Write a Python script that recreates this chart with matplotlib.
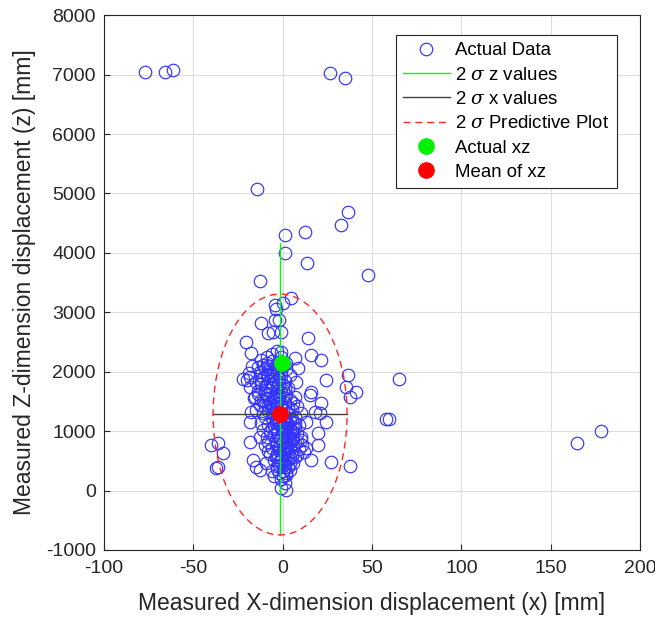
import numpy as np
import matplotlib
matplotlib.use("Agg")
import matplotlib.pyplot as plt

plt.rcParams["font.family"] = ["Liberation Sans", "DejaVu Sans"]
plt.rcParams["mathtext.fontset"] = "dejavuserif"
plt.rcParams["axes.unicode_minus"] = False

# ================= DATA =================
# scattered / outlying measurements (x mm, z mm)
outer_x = [-77, -66, -61.5, 26.2, 34.6, -14.4, 36.5, 32.9, 1, 12.2, 1, 13.5, 47.7, -13,
           4.8, -4.2, -4, -4.6, -12.4, -2.3, -8.3, -5.5, -0.8, -20.4, -17.6, -0.8, 14.1,
           16, 21.5, 6.6, 0.3, 8.5, 24.4, 36.5, 35.5, 41.1, 37.4, 16, 15, 21.5, 7.6, 6.6,
           17.8, 20.6, 24.4, 10.4, 13.1, 6.6, 65, 58, 59.6, 164.6, 178, 37.8, -40, -36.3,
           -33.5, -36.3, -37.2, -18.6, -16.7, -14.8, -13, -9.2, -0.8, 2, 19.7, 19.7, 16,
           27.1, 13.1, 10.4, -18.6, -18.6, -15.8, -17.6, -18.6]
outer_z = [7047, 7047, 7070, 7020, 6947, 5069, 4687, 4463, 4300, 4356, 3992, 3824, 3627, 3526,
           3245, 3123, 3050, 2870, 2825, 2870, 2657, 2673, 2673, 2505, 2320, 2337, 2562,
           2281, 2197, 2226, 3156, 2058, 1861, 1945, 1748, 1664, 1580, 1664, 1608, 1469, 1833, 1580,
           1327, 1300, 1159, 1300, 1159, 1132, 1872, 1205, 1205, 806, 1003, 419, 767, 796,
           628, 402, 375, 823, 515, 402, 347, 459, 39, 10, 964, 767, 515,
           486, 712, 851, 1916, 1748, 1580, 1327, 1159]

# dense core of the measurements
core_x = [-12, -9, -6, -3, -1, -14, -10, -7, -4, -1, 2, -13, -11, -8, -5, -2, 1, -15, -12, -9,
          -6, -3, 0, 3, -14, -10, -7, -4, -1, 2, -16, -12, -8, -5, -2, 1, 4, -13, -10, -7,
          -4, -1, 3, -15, -11, -8, -5, -2, 5, 8, 6, -20, -22, -19, -17, -6, -3, 2, 4, -9,
          -10, -6, -3, 1, 4, 7, -12, -8, -4, 0, 3, 6, 9, -11, -7, -3, 1, 5, 8, -9,
          -5, -1, 2, 6, 10, -8, -4, 0, 3, 7, 11, -6, -2, 2, 5, 9, 12, -7, -3, 1,
          4, 8, -5, -1, 3, 6, -3, 1, 4, -6, -2, 2, -1, 1, -4, -8, -10, -13, 0, 4,
          -2, 2, -6, 7, -3, 0, -5]
core_z = [2200, 2150, 2180, 2120, 2250, 2080, 2050, 2010, 2060, 1990, 2050, 1950, 1890, 1920, 1880, 1900, 1850, 1830, 1790, 1760,
          1800, 1740, 1780, 1720, 1680, 1650, 1690, 1620, 1660, 1600, 1560, 1530, 1560, 1500, 1540, 1480, 1520, 1440, 1400, 1460,
          1380, 1420, 1390, 1350, 1310, 1340, 1290, 1330, 1350, 1420, 1480, 1860, 1880, 1980, 2100, 2290, 2350, 2150, 1950, 2250,
          1240, 1220, 1180, 1210, 1170, 1230, 1130, 1100, 1140, 1080, 1120, 1060, 1100, 1020, 990, 1030, 970, 1000, 950, 900,
          930, 880, 910, 860, 900, 810, 780, 830, 760, 800, 760, 720, 690, 730, 660, 700, 650, 620, 590, 630,
          560, 600, 520, 490, 530, 460, 420, 390, 350, 330, 300, 260, 200, 130, 560, 660, 760, 900, 1000, 880,
          1160, 1040, 1060, 560, 370, 250, 240]

# extra points packed into the darkest part of the core
dense_x = [-11, -8, -5, -2, 0, -13, -9, -6, -3, -1, -12, -7, -4, -2, 1, -10, -6, -3, 0, -14,
           -9, -5, -2, 1, -11, -7, -4, -1, -8, -5, -3, 0, -6, -2, 1, 3, -4, 0, 2, 5,
           -5, -1, 2, 4, 7, -3, 0, 3, 6, -4, -1, 2, 5, 8, -2, 1, 4, 6, -3, 0,
           3, 5, -1, 2, 4, -2, 1, 3, 0, 2]
dense_z = [2120, 2090, 2030, 2170, 2100, 1990, 1960, 1950, 1980, 1930, 1860, 1840, 1820, 1800, 1710, 1740, 1720, 1680, 1700, 1620,
           1600, 1580, 1610, 1550, 1500, 1490, 1520, 1470, 1430, 1410, 1450, 1360, 1300, 1280, 1260, 1300, 1200, 1170, 1150, 1200,
           1090, 1110, 1070, 1040, 1050, 980, 1010, 960, 990, 850, 870, 820, 880, 840, 740, 770, 710, 750, 640, 680,
           610, 580, 540, 500, 470, 430, 450, 400, 330, 300]

# summary statistics
mean_xz = (-1.8, 1284)
actual_xz = (-0.3, 2142)
z_line_x = -1.8
z_line_range = (-747, 4171)
x_line_z = 1284
x_line_range = (-39, 36)
ellipse_center = (-1.5, 1280)
ellipse_semi = (37.5, 2027)

# ================= PLOT =================
fig = plt.figure(figsize=(6.55, 6.19), dpi=100)
ax = fig.add_axes([0.159, 0.1115, 0.818, 0.864])

all_x = outer_x + core_x + dense_x
all_z = outer_z + core_z + dense_z
ax.plot(all_x, all_z, "o", mfc="none", mec=(0.2, 0.2, 1.0), mew=0.85, ms=9,
        label="Actual Data", zorder=2)
ax.plot([z_line_x, z_line_x], z_line_range, color=(0.0, 1.0, 0.0), lw=1,
        label=r"2 $\sigma$ z values", zorder=3)
ax.plot(x_line_range, [x_line_z, x_line_z], color=(0.25, 0.25, 0.25), lw=1,
        label=r"2 $\sigma$ x values", zorder=3)
t = np.linspace(0, 2 * np.pi, 300)
ax.plot(ellipse_center[0] + ellipse_semi[0] * np.cos(t),
        ellipse_center[1] + ellipse_semi[1] * np.sin(t),
        "--", color=(1.0, 0.15, 0.15), lw=1, dashes=(5, 3.5),
        label=r"2 $\sigma$ Predictive Plot", zorder=3)
ax.plot(*actual_xz, "o", color=(0.0, 0.95, 0.0), ms=11, label="Actual xz", zorder=4)
ax.plot(*mean_xz, "o", color=(1.0, 0.0, 0.0), ms=11, label="Mean of xz", zorder=4)

ax.set_xlim(-100, 200)
ax.set_ylim(-1000, 8000)
ax.set_xticks(np.arange(-100, 201, 50))
ax.set_yticks(np.arange(-1000, 8001, 1000))
ax.grid(True, color=(0.87, 0.87, 0.87), lw=0.8)
ax.set_axisbelow(True)
ax.tick_params(direction="in", labelsize=14, colors=(0.15, 0.15, 0.15), length=4)
ax.tick_params(axis="x", pad=7)
ax.tick_params(axis="y", pad=6)
for s in ax.spines.values():
    s.set_color((0.15, 0.15, 0.15))
    s.set_linewidth(0.8)

ax.set_xlabel("Measured X-dimension displacement (x) [mm]", fontsize=16.5,
              color=(0.15, 0.15, 0.15), labelpad=11)
ax.set_ylabel("Measured Z-dimension displacement (z) [mm]", fontsize=16.5,
              color=(0.15, 0.15, 0.15), labelpad=7)

leg = ax.legend(loc="upper right", bbox_to_anchor=(0.957, 0.963), fontsize=13.4,
                fancybox=False, edgecolor=(0.15, 0.15, 0.15), framealpha=1,
                handlelength=2.5, borderpad=0.4, labelspacing=0.39, handletextpad=0.3,
                borderaxespad=0.0)
leg.get_frame().set_linewidth(0.8)

fig.savefig("out.png", dpi=100)
